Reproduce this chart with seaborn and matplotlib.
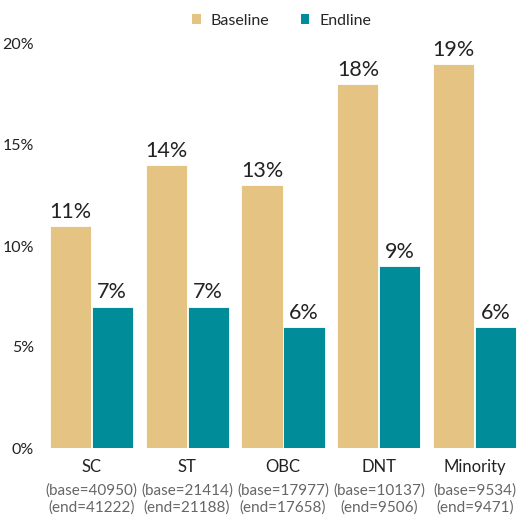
import matplotlib
matplotlib.use("Agg")
import matplotlib.pyplot as plt
import seaborn as sns
import pandas as pd
from matplotlib.patches import Patch

categories = ["SC", "ST", "OBC", "DNT", "Minority"]
base_n = [40950, 21414, 17977, 10137, 9534]
end_n = [41222, 21188, 17658, 9506, 9471]
baseline = [11, 14, 13, 18, 19]
endline = [7, 7, 6, 9, 6]
series = ["Baseline", "Endline"]
colors = ["#E5C483", "#008C99"]
yticks = [0, 5, 10, 15, 20]

df = pd.DataFrame({
    "group": categories * 2,
    "series": [series[0]] * len(categories) + [series[1]] * len(categories),
    "value": baseline + endline,
})

sns.set_theme(style="white")
plt.rcParams["font.family"] = ["Lato", "DejaVu Sans"]

fig = plt.figure(figsize=(5.21, 5.19), dpi=100)
ax = fig.add_axes([48 / 521, 71 / 519, 470 / 521, 404 / 519])

sns.barplot(data=df, x="group", y="value", hue="series", palette=colors,
            width=0.875, gap=0.02, saturation=1, ax=ax, legend=False,
            edgecolor="white", linewidth=0.6)

ax.set_ylim(0, 20)
ax.set_xlim(-0.45, 4.45)
ax.set_yticks(yticks)
ax.set_yticklabels([f"{v}%" for v in yticks], fontsize=11.5, color="#222222")
ax.tick_params(axis="y", length=0, pad=10)
ax.tick_params(axis="x", length=0, pad=8)
ax.set_xticks(range(len(categories)))
ax.set_xticklabels(categories, fontsize=12, color="#222222")
ax.set_xlabel("")
ax.set_ylabel("")
for s in ax.spines.values():
    s.set_visible(False)

for cont in ax.containers:
    ax.bar_label(cont, labels=[f"{v:.0f}%" for v in cont.datavalues],
                 padding=3, fontsize=15.5, color="#222222", clip_on=False)

# sample sizes under each category
for i, (b, e) in enumerate(zip(base_n, end_n)):
    ax.text(i, -1.75, f"(base={b})\n(end={e})", ha="center", va="top",
            fontsize=11, color="#666666", linespacing=1.2,
            transform=ax.transData, clip_on=False)

# legend at top
handles = [Patch(facecolor=c, edgecolor="none", label=l) for c, l in zip(colors, series)]
fig.legend(handles=handles, loc="center", bbox_to_anchor=(0.54, 0.96), ncol=2,
           frameon=False, fontsize=11.5, handlelength=0.55, handleheight=0.55,
           handletextpad=0.6, columnspacing=2.0)

fig.savefig("out.png", dpi=100)
